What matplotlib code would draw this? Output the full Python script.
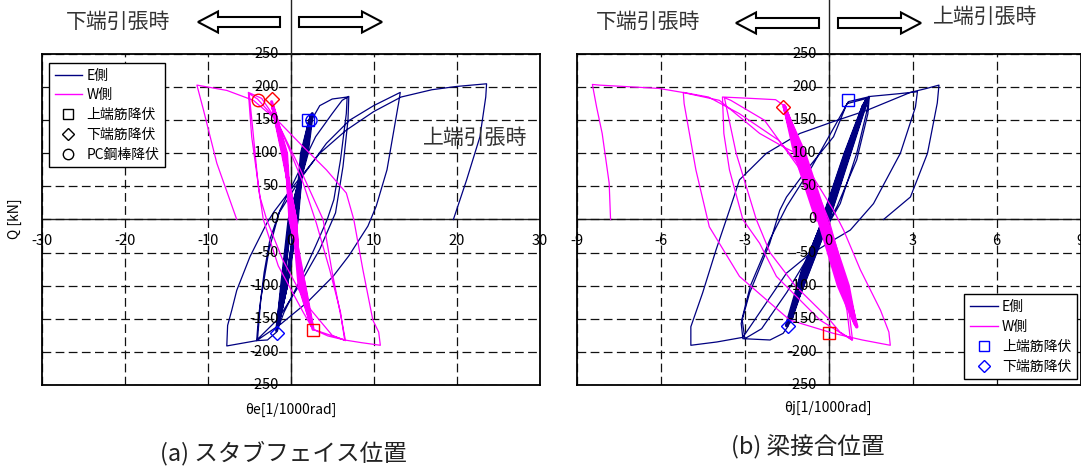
import matplotlib.pyplot as plt
from matplotlib.lines import Line2D
from matplotlib.patches import FancyArrow

plt.rcParams['font.family'] = ['Noto Sans CJK JP', 'DejaVu Sans']

NAVY = '#000080'
MAG = '#ff00ff'

# ---- tick values
xa_ticks = [-30, -20, -10, 0, 10, 20, 30]
xb_ticks = [-9, -6, -3, 0, 3, 6, 9]
q_ticks = [-250, -200, -150, -100, -50, 0, 50, 100, 150, 200, 250]

# ---- (a) stub face : E side (navy)
ea_el_x = [0.3, 1.6, 2.3, 1.3, 0.6, -0.5, -1.4, -0.9, 0.0, 1.8, 2.4, 1.4, 0.7, -0.5, -1.5,
           -1.0, -0.1, 1.9, 2.5, 1.5, 0.8, -0.5, -1.6, -1.1, -0.2, 2.0, 2.6, 1.5, 0.7, -0.6, -1.7, -1.0, 0.0]
ea_el_q = [0, 100, 150, 100, 0, -100, -150, -100, 0, 100, 155, 100, 0, -100, -158,
           -100, 0, 100, 158, 100, 0, -100, -163, -100, 0, 100, 160, 100, 0, -100, -168, -100, 0]
ea_x = [0.3, 1.2, 2.5, 3.5, 5.0, 6.8,
        6.7, 6.0, 5.2, 4.4, 3.0, 1.0, -0.8, -1.7, -2.8, -4.1,
        -3.9, -3.2, -2.5, -1.3, 0.5, 3.0, 5.0, 6.2, 7.0,
        6.9, 6.3, 5.4, 3.5, 1.0, -1.5, -4.0,
        -3.6, -2.6, -1.4, 1.1, 4.3, 7.1, 10.0, 13.2,
        13.0, 11.6, 10.3, 9.3, 7.0, 5.1, 2.0, -1.2, -4.1, -7.7,
        -7.6, -7.1, -6.5, -4.9, -2.9, -2.0, 0.3, 3.5, 6.7, 10.0, 13.3, 17.0, 20.0, 23.6,
        23.5, 22.8, 21.2, 19.6]
ea_q = [0, 70, 150, 172, 182, 185,
        160, 90, 30, 0, -40, -95, -140, -170, -182, -183,
        -150, -80, -30, 14, 60, 125, 160, 180, 186,
        150, 80, 10, -45, -100, -150, -181,
        -120, -45, 10, 60, 115, 150, 172, 192,
        176, 75, 20, -10, -55, -86, -125, -158, -183, -191,
        -160, -137, -107, -56, -6, 12, 50, 100, 135, 163, 185, 196, 201, 205,
        185, 125, 60, 0]

# ---- (a) stub face : W side (magenta)
wa_el_x = [0.5, -0.9, -2.0, -0.7, 0.1, 1.5, 2.4, 1.1, 0.6, -0.9, -2.2, -0.6, 0.0, 1.6, 2.6,
           1.1, 0.6, -1.0, -2.3, -0.6, -0.1, 1.7, 2.7, 1.2, 0.5, -0.9, -2.1, -0.5, 0.0, 1.6, 2.5, 1.0, 0.3]
wa_el_q = [0, 100, 165, 100, 0, -100, -155, -100, 0, 100, 172, 100, 0, -100, -162,
           -100, 0, 100, 178, 100, 0, -100, -166, -100, 0, 100, 170, 100, 0, -100, -160, -100, 0]
wa_x = [0.3, 1.5, 2.7, 4.5, 6.5,
        6.0, 4.7, 3.1, 1.5, -0.3, -1.7, -3.5, -5.1,
        -4.7, -3.7, -2.9, -1.0, 2.0, 5.0, 6.6,
        5.9, 5.0, 3.9, 1.0, -1.7, -4.0, -5.0,
        -4.6, -3.9, -3.3, -1.5, 1.5, 2.7, 6.5, 8.5, 10.8,
        10.6, 9.9, 8.7, 7.6, 6.7, 4.3, 1.1, -1.3, -4.5, -7.7, -11.3,
        -10.5, -8.9, -6.5]
wa_q = [0, -80, -166, -176, -182,
        -140, -76, -6, 55, 110, 150, 183, 192,
        125, 34, 0, -60, -130, -175, -183,
        -137, -80, 0, 80, 150, 182, 190,
        140, 50, 0, -70, -140, -166, -182, -186, -190,
        -170, -152, -76, 0, 40, 75, 115, 146, 180, 195, 203,
        165, 85, 0]

# ---- (b) beam joint : E side
eb_el_x = [-0.2, 0.6, 1.25, 0.7, -0.05, -0.8, -1.35, -0.9, -0.18, 0.62, 1.3, 0.72, -0.04,
           -0.78, -1.42, -0.93, -0.16, 0.64, 1.35, 0.74, -0.02, -0.75, -1.5, -0.95, -0.15]
eb_el_q = [0, 100, 172, 100, 0, -80, -150, -80, 0, 100, 176, 100, 0,
           -80, -155, -80, 0, 100, 180, 100, 0, -80, -160, -80, 0]
eb_x = [1.4, 1.43,
        1.37, 1.0, 0.41, -0.07, -0.8, -1.45, -1.63, -2.1, -3.07,
        -3.13, -2.83, -2.11, -1.75, -1.51, -0.79, 0.17, 0.65, 1.37, 1.45,
        1.4, 1.0, 0.3, -0.5, -1.5, -2.4, -3.0,
        -3.1, -2.8, -2.1, -1.5, -0.6, 0.2, 0.7, 1.5, 2.5, 3.17,
        3.1, 2.56, 1.6, 0.77, 0.17, -0.79, -1.51, -2.3, -3.07, -4.0, -4.93,
        -4.93, -4.51, -4.03, -3.55, -3.19, -2.23, -1.03, 0.17, 1.37, 2.92, 3.5, 3.94,
        3.88, 3.53, 2.92, 1.96]
eb_q = [180, 186,
        165, 100, 24, -11, -90, -161, -172, -182, -180,
        -157, -111, -36, 14, 34, 75, 125, 175, 183, 186,
        160, 90, 20, -40, -110, -165, -180,
        -150, -100, -30, 20, 80, 140, 178, 186, 190, 193,
        170, 100, 24, -16, -31, -56, -81, -130, -178, -185, -190,
        -162, -111, -46, 14, 60, 100, 130, 148, 165, 192, 198, 203,
        176, 100, 34, 0]

# ---- (b) beam joint : W side
wb_el_x = [-0.43, -1.21, -1.55, -0.87, -0.09, 0.69, 0.95, 0.35, -0.36, -1.14, -1.6, -0.94,
           -0.16, 0.62, 1.0, 0.42, -0.3, -1.08, -1.58, -0.98, -0.2, 0.58, 0.9, 0.45, -0.26]
wb_el_q = [0, 100, 165, 100, 0, -100, -158, -100, 0, 100, 172, 100,
           0, -100, -162, -100, 0, 100, 170, 100, 0, -100, -150, -100, 0]
wb_x = [-1.6, -1.9, -2.8, -3.8,
        -3.75, -3.55, -3.07, -2.47, -1.87, -0.31, 0.83,
        0.77, 0.65, 0.29, 0.05, -0.31, -1.1, -2.3, -3.5, -3.73,
        -3.31, -2.59, -2.1, -1.2, 0.0, 0.4, 0.85,
        0.7, 0.4, 0.0, -0.6, -1.8, -3.2, -4.3, -5.2,
        -5.17, -4.75, -4.27, -3.19, -1.39, 0.17, 1.2, 2.2,
        2.15, 1.85, 1.13, 0.53, 0.17, -0.5, -1.03, -1.63, -2.47, -3.07, -3.91, -5.23, -6.07, -8.2, -8.45,
        -8.3, -8.1, -7.85, -7.8]
wb_q = [172, 181, 183, 185,
        130, 75, 0, -36, -86, -152, -182,
        -180, -137, -76, -36, 14, 80, 150, 180, 184,
        100, 0, -50, -100, -150, -170, -182,
        -130, -60, 0, 60, 120, 160, 185, 192,
        175, 75, -11, -86, -152, -172, -182, -190,
        -170, -137, -76, -16, 14, 60, 97, 110, 130, 151, 180, 192, 198, 203, 204,
        170, 130, 55, 0]

# ---- yield points
a_top_e = (2.1, 151)
a_pc_e = (2.5, 151)
a_bot_e = (-1.7, -171)
a_pc_w = (-4.0, 180)
a_bot_w = (-2.3, 182)
a_top_w = (2.7, -167)
b_top_e = (0.7, 180)
b_bot_e = (-1.45, -161)
b_bot_w = (-1.63, 170)
b_top_w = (0.0, -171)

W, H = 1081, 468
fig = plt.figure(figsize=(W / 100, H / 100), dpi=100)


def px_rect(x0, y0, x1, y1):
    return [x0 / W, 1 - y1 / H, (x1 - x0) / W, (y1 - y0) / H]


def setup(ax, xt):
    ax.set_xlim(xt[0], xt[-1])
    ax.set_ylim(-250, 250)
    ax.set_xticks(xt)
    ax.set_yticks(q_ticks)
    ax.tick_params(length=0, labelbottom=False, labelleft=False)
    ax.grid(True, color='#111111', ls=(0, (7, 3.5)), lw=0.9)
    ax.axhline(0, color='#222222', lw=1.0, zorder=1)
    ax.axvline(0, color='#222222', lw=1.0, zorder=1)
    for s in ax.spines.values():
        s.set_linewidth(1.3)
        s.set_color('black')
    for v in xt:
        ax.annotate(str(v), xy=(v, 0), xytext=(0, -22), textcoords='offset pixels',
                    ha='center', va='center', fontsize=10.5, zorder=6)
    for v in q_ticks:
        ax.annotate(str(v), xy=(0, v), xytext=(-12, 0), textcoords='offset pixels',
                    ha='right', va='center', fontsize=10.5, zorder=6)


mk = dict(ls='none', mfc='none', mew=1.0)
leg = dict(fontsize=10, frameon=True, fancybox=False, framealpha=1, edgecolor='black',
           handlelength=2.0, handletextpad=0.3, labelspacing=0.42, borderpad=0.4,
           borderaxespad=0)

# (a)
axa = fig.add_axes(px_rect(41.7, 54, 539.7, 385))
setup(axa, xa_ticks)
axa.plot(ea_el_x, ea_el_q, color=NAVY, lw=2.2)
axa.plot(ea_x, ea_q, color=NAVY, lw=0.9)
axa.plot(wa_el_x, wa_el_q, color=MAG, lw=2.2)
axa.plot(wa_x, wa_q, color=MAG, lw=0.9)
axa.plot(*a_top_e, marker='s', mec='#0000ff', ms=8, **mk)
axa.plot(*a_pc_e, marker='o', mec='#0000ff', ms=8, **mk)
axa.plot(*a_bot_e, marker='D', mec='#0000ff', ms=7, **mk)
axa.plot(*a_pc_w, marker='o', mec='#ff0000', ms=9, **mk)
axa.plot(*a_bot_w, marker='D', mec='#ff0000', ms=7.5, **mk)
axa.plot(*a_top_w, marker='s', mec='#ff0000', ms=9, **mk)

ha = [Line2D([], [], color=NAVY, lw=1),
      Line2D([], [], color=MAG, lw=1),
      Line2D([], [], marker='s', mec='black', ms=7, **mk),
      Line2D([], [], marker='D', mec='black', ms=6, **mk),
      Line2D([], [], marker='o', mec='black', ms=7.5, **mk)]
la = axa.legend(ha, ['E側', 'W側', '上端筋降伏', '下端筋降伏', 'PC鋼棒降伏'],
                loc='upper left', bbox_to_anchor=(0.0147, 0.973), **leg)
la.get_frame().set_linewidth(1.0)

# (b)
axb = fig.add_axes(px_rect(577, 54, 1080.5, 385))
setup(axb, xb_ticks)
axb.plot(eb_el_x, eb_el_q, color=NAVY, lw=2.8)
axb.plot(eb_x, eb_q, color=NAVY, lw=0.9)
axb.plot(wb_el_x, wb_el_q, color=MAG, lw=2.6)
axb.plot(wb_x, wb_q, color=MAG, lw=0.9)
axb.plot(*b_top_e, marker='s', mec='#0000ff', ms=9, **mk)
axb.plot(*b_bot_e, marker='D', mec='#0000ff', ms=7.5, **mk)
axb.plot(*b_bot_w, marker='D', mec='#ff0000', ms=7.5, **mk)
axb.plot(*b_top_w, marker='s', mec='#ff0000', ms=9, **mk)

hb = [Line2D([], [], color=NAVY, lw=1),
      Line2D([], [], color=MAG, lw=1),
      Line2D([], [], marker='s', mec='#0000ff', ms=7, **mk),
      Line2D([], [], marker='D', mec='#0000ff', ms=6, **mk)]
lb = axb.legend(hb, ['E側', 'W側', '上端筋降伏', '下端筋降伏'],
                loc='lower right', bbox_to_anchor=(0.9925, 0.018), **leg)
lb.get_frame().set_linewidth(1.0)

# overlay in pixel coordinates for the annotations around the panels
ov = fig.add_axes([0, 0, 1, 1], zorder=10)
ov.set_xlim(0, W)
ov.set_ylim(H, 0)
ov.axis('off')
ov.patch.set_alpha(0)

ov.plot([290.7, 290.7], [0, 54], color='#222222', lw=1.0)
ov.plot([828.7, 828.7], [0, 54], color='#222222', lw=1.0)

arr = dict(width=10, head_width=21, head_length=20, length_includes_head=True,
           fc='white', ec='black', lw=1.5)
ov.add_patch(FancyArrow(280, 22, -82, 0, **arr))
ov.add_patch(FancyArrow(299, 22, 83, 0, **arr))
ov.add_patch(FancyArrow(819, 23, -83, 0, **arr))
ov.add_patch(FancyArrow(838, 23, 83, 0, **arr))

tk = dict(ha='center', va='center', color='#333333', fontsize=15)
ov.text(118, 22, '下端引張時', **tk)
ov.text(475, 138, '上端引張時', **tk)
ov.text(648, 22, '下端引張時', **tk)
ov.text(985, 17, '上端引張時', **tk)

ov.text(291, 410, 'θe[1/1000rad]', ha='center', va='center', fontsize=10)
ov.text(828, 408, 'θj[1/1000rad]', ha='center', va='center', fontsize=10)
ov.text(15, 219, 'Q [kN]', ha='center', va='center', fontsize=10, rotation=90)

ov.text(283, 453, '(a) スタブフェイス位置', ha='center', va='center', fontsize=17, color='#222222')
ov.text(808, 447, '(b) 梁接合位置', ha='center', va='center', fontsize=17, color='#222222')

fig.savefig('out.png', dpi=100)
